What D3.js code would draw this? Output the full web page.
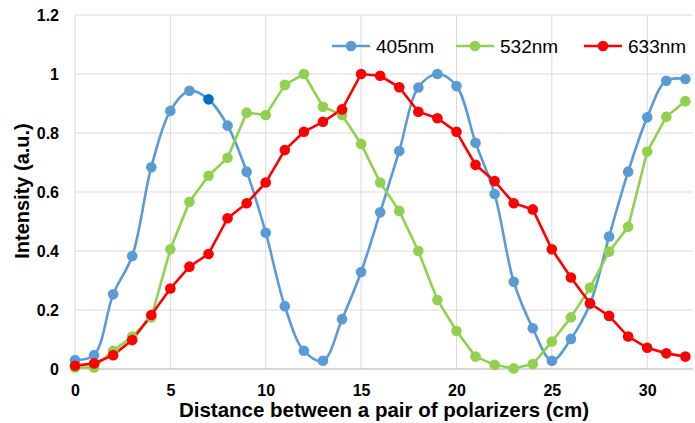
<!DOCTYPE html>
<html>
<head>
<meta charset="UTF-8">
<script src="https://d3js.org/d3.v7.min.js"></script>
<style>
  body { margin: 0; background: #fff; }
  text { font-family: "Liberation Sans", Arial, sans-serif; }
</style>
</head>
<body>
<svg id="chart" width="695" height="423"></svg>
<script>
// distance (cm)
var distance = d3.range(0, 33);

var i405 = [0.03, 0.047, 0.253, 0.383, 0.684, 0.875, 0.943, 0.914, 0.825, 0.669,
            0.462, 0.213, 0.062, 0.028, 0.169, 0.329, 0.531, 0.739, 0.954, 1.0,
            0.959, 0.767, 0.593, 0.296, 0.138, 0.028, 0.102, 0.22, 0.449, 0.669,
            0.853, 0.977, 0.983];

var i532 = [0.005, 0.005, 0.062, 0.11, 0.175, 0.406, 0.567, 0.655, 0.716, 0.869,
            0.861, 0.963, 1.0, 0.889, 0.861, 0.763, 0.632, 0.536, 0.4, 0.234,
            0.129, 0.042, 0.014, 0.002, 0.017, 0.093, 0.175, 0.276, 0.398, 0.482,
            0.737, 0.855, 0.908];

var i633 = [0.011, 0.019, 0.047, 0.098, 0.183, 0.273, 0.347, 0.39, 0.511, 0.562,
            0.632, 0.742, 0.804, 0.838, 0.88, 1.0, 0.994, 0.955, 0.872, 0.85,
            0.804, 0.692, 0.637, 0.562, 0.541, 0.406, 0.31, 0.223, 0.18, 0.11,
            0.072, 0.053, 0.042];

var xTicks = [0, 5, 10, 15, 20, 25, 30];
var yTicks = [0, 0.2, 0.4, 0.6, 0.8, 1.0, 1.2];

var series = [
  {name: "405nm", values: i405, color: "#5B9BD5", smooth: true},
  {name: "532nm", values: i532, color: "#92D050", smooth: false},
  {name: "633nm", values: i633, color: "#FF0000", smooth: false}
];

var svg = d3.select("#chart"),
    margin = {top: 15, right: 2, bottom: 54, left: 75},
    width = +svg.attr("width") - margin.left - margin.right,
    height = +svg.attr("height") - margin.top - margin.bottom,
    g = svg.append("g").attr("transform", "translate(" + margin.left + "," + margin.top + ")");

var x = d3.scaleLinear().domain([0, 32.4]).range([0, width]);
var y = d3.scaleLinear().domain([0, 1.2]).range([height, 0]);

// grid
g.append("g").selectAll("line").data(yTicks).enter().append("line")
    .attr("x1", 0).attr("x2", width)
    .attr("y1", function(d){ return y(d); }).attr("y2", function(d){ return y(d); })
    .attr("stroke", "#D9D9D9").attr("stroke-width", 1);
g.append("g").selectAll("line").data(xTicks).enter().append("line")
    .attr("x1", function(d){ return x(d); }).attr("x2", function(d){ return x(d); })
    .attr("y1", 0).attr("y2", height)
    .attr("stroke", "#D9D9D9").attr("stroke-width", 1);
g.append("line").attr("x1", 0).attr("x2", width).attr("y1", height).attr("y2", height)
    .attr("stroke", "#BFBFBF").attr("stroke-width", 1);

// axes
var xAxis = g.append("g")
    .attr("transform", "translate(0," + height + ")")
    .call(d3.axisBottom(x).tickValues(xTicks).tickSize(0).tickPadding(16));
var yAxis = g.append("g")
    .call(d3.axisLeft(y).tickValues(yTicks).tickSize(0).tickPadding(16)
      .tickFormat(function(d){ return d === 0 || d === 1 ? d3.format("d")(d) : d3.format(".1f")(d); }));
[xAxis, yAxis].forEach(function(a){
  a.select(".domain").remove();
  a.selectAll("text").attr("font-size", 16).attr("font-weight", "bold").attr("fill", "#000")
    .style("font-family", "'Liberation Sans', Arial, sans-serif");
});

// lines
series.forEach(function(s){
  var line = d3.line()
      .x(function(d, i){ return x(distance[i]); })
      .y(function(d){ return y(d); })
      .curve(s.smooth ? d3.curveCatmullRom.alpha(0.5) : d3.curveLinear);
  g.append("path").datum(s.values)
      .attr("fill", "none").attr("stroke", s.color).attr("stroke-width", 2.6)
      .attr("d", line);
});
series.forEach(function(s){
  g.append("g").selectAll("circle").data(s.values).enter().append("circle")
      .attr("cx", function(d, i){ return x(distance[i]); })
      .attr("cy", function(d){ return y(d); })
      .attr("r", 5.3)
      .attr("fill", function(d, i){ return (s.name === "405nm" && distance[i] === 7) ? "#0070C0" : s.color; });
});

// legend
var legendX = [257, 381, 509];
var legend = g.append("g").selectAll("g").data(series).enter().append("g")
    .attr("transform", function(d, i){ return "translate(" + legendX[i] + "," + 31 + ")"; });
legend.append("line").attr("x1", 0).attr("x2", 38).attr("stroke", function(d){ return d.color; })
    .attr("stroke-width", 2.6);
legend.append("circle").attr("cx", 19).attr("r", 5.3).attr("fill", function(d){ return d.color; });
legend.append("text").attr("x", 44).attr("dy", "0.36em")
    .attr("font-size", 19).attr("fill", "#000")
    .text(function(d){ return d.name; });

// axis titles
svg.append("text")
    .attr("x", 384).attr("y", 417)
    .attr("text-anchor", "middle").attr("font-size", 20.5).attr("font-weight", "bold")
    .text("Distance between a pair of polarizers (cm)");
svg.append("text")
    .attr("transform", "translate(29,191) rotate(-90)")
    .attr("text-anchor", "middle").attr("font-size", 20).attr("font-weight", "bold")
    .text("Intensity (a.u.)");
</script>
</body>
</html>
